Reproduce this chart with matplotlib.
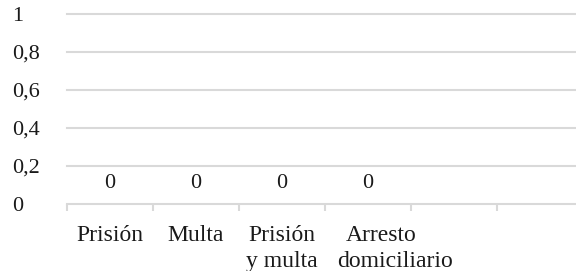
import matplotlib
matplotlib.use("Agg")
import matplotlib.pyplot as plt
import numpy as np

categories = ["Prisión", "Multa", "Prisión\ny multa", "Arresto\ndomiciliario", "", ""]
values = [0, 0, 0, 0, None, None]
y_ticks = [0, 0.2, 0.4, 0.6, 0.8, 1]
y_tick_labels = ["0", "0,2", "0,4", "0,6", "0,8", "1"]

# per-line horizontal nudges (pixels) of the wrapped category labels
label_nudge = {3: [13, 27]}

plt.rcParams['font.family'] = ['Liberation Serif', 'DejaVu Serif']
W, H = 576, 271
fig = plt.figure(figsize=(W / 100, H / 100), dpi=100)
left, right, top, bottom = 67, 576, 14, 204
ax = fig.add_axes([left / W, (H - bottom) / H, (right - left) / W, (bottom - top) / H])

fs_cat = 17
fs = 16
grid_color = "#d9d9d9"
text_color = "#1a1a1a"
x = np.arange(len(categories))
shown = [i for i, v in enumerate(values) if v is not None]
bars = ax.bar([x[i] for i in shown], [values[i] for i in shown], width=0.6, color="#4472c4")
for i in shown:
    ax.annotate(str(values[i]), xy=(x[i], values[i]), xytext=(0, 16), textcoords="offset pixels",
                ha="center", va="baseline", fontsize=fs, color=text_color)

ax.set_yticks(y_ticks)
ax.set_yticklabels(y_tick_labels, fontsize=fs, ha="left", color=text_color)
ax.tick_params(axis="y", length=0, pad=39.6)
ax.set_xticks(np.arange(len(categories) + 1) - 0.5)
ax.set_xticklabels([])
ax.tick_params(axis="x", length=5, width=1.5, color=grid_color)
ax.set_ylim(0, 1)
ax.set_xlim(-0.5, -0.5 + (right - left) / 86)

trans = ax.get_xaxis_transform()
for i, cat in enumerate(categories):
    for j, line in enumerate(cat.split("\n")):
        if not line:
            continue
        dx = label_nudge.get(i, [0, 0])[j]
        ax.annotate(line, xy=(x[i], 0), xycoords=trans, xytext=(dx, -37 - 26 * j),
                    textcoords="offset pixels", ha="center", va="baseline",
                    fontsize=fs_cat, color=text_color, annotation_clip=False)

for y in y_ticks[1:]:
    ax.axhline(y, color=grid_color, linewidth=1.5, zorder=0, clip_on=False)
for s in ["left", "right", "top"]:
    ax.spines[s].set_visible(False)
ax.spines["bottom"].set_color(grid_color)
ax.spines["bottom"].set_linewidth(1.5)

fig.savefig("out.png", dpi=100)
